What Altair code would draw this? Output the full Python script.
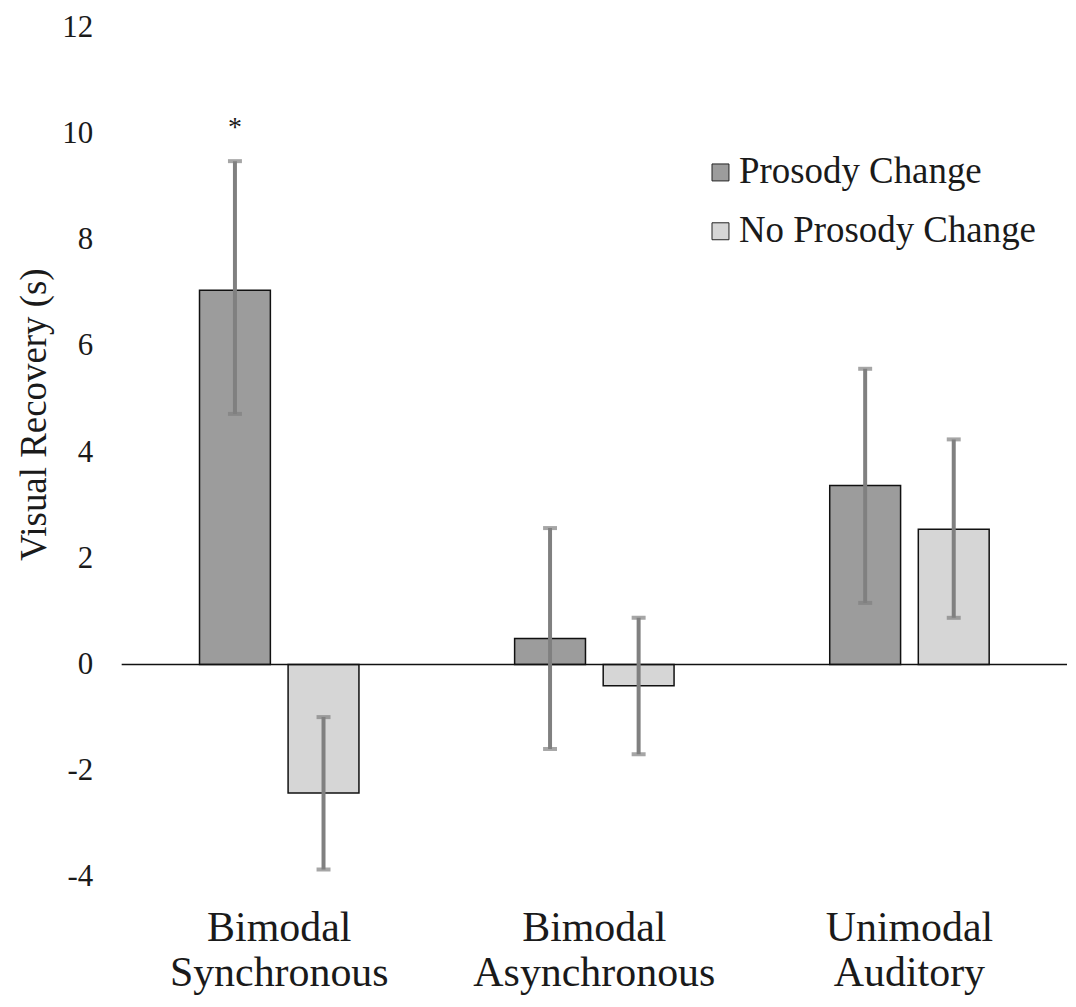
import altair as alt
import pandas as pd

categories = ["Bimodal Synchronous", "Bimodal Asynchronous", "Unimodal Auditory"]
series = ["Prosody Change", "No Prosody Change"]
pc_mean = [7.05, 0.49, 3.37]
pc_low = [4.72, -1.59, 1.16]
pc_high = [9.48, 2.57, 5.57]
npc_mean = [-2.42, -0.40, 2.55]
npc_low = [-3.86, -1.69, 0.88]
npc_high = [-0.99, 0.88, 4.24]
sig_label = ["*", "", ""]
sig_pos = [10.1, None, None]

rows = []
for i, c in enumerate(categories):
    rows.append(dict(cat=c, ser=series[0], v=pc_mean[i], lo=pc_low[i], hi=pc_high[i]))
    rows.append(dict(cat=c, ser=series[1], v=npc_mean[i], lo=npc_low[i], hi=npc_high[i]))
df = pd.DataFrame(rows)

sig = pd.DataFrame([dict(cat=categories[i], ser=series[0], t=sig_label[i], y=sig_pos[i])
                    for i in range(len(categories)) if sig_label[i]])

FONT = "Liberation Serif"
TXT = "#1a1a1a"

x = alt.X("cat:N", sort=categories, title=None,
          scale=alt.Scale(paddingInner=0.494, paddingOuter=0.247),
          axis=alt.Axis(labelExpr="split(datum.label, ' ')", labelAngle=0,
                        labelFontSize=42, labelFont=FONT, labelColor=TXT,
                        labelLineHeight=45, labelPadding=31, domain=False, ticks=False,
                        labelBaseline="top", labelLimit=0))
xoff = alt.XOffset("ser:N", sort=series, scale=alt.Scale(paddingInner=0.2, paddingOuter=0))
yscale = alt.Scale(domain=[-4, 12], nice=False, zero=False)

base = alt.Chart(df)

bars = base.mark_bar(stroke="#111111", strokeWidth=1.5).encode(
    x=x, xOffset=xoff,
    y=alt.Y("v:Q", scale=yscale, title="Visual Recovery (s)",
            axis=alt.Axis(values=list(range(-4, 13, 2)), labelExpr="datum.value + ''",
                          domain=False, ticks=False, grid=False,
                          labelFontSize=31, labelFont=FONT, labelColor=TXT, labelPadding=29,
                          titleFontSize=37, titleFont=FONT, titleFontWeight="normal",
                          titleColor=TXT, titleY=388, titleX=-68, titleAngle=270,
                          titleAlign="center", titleBaseline="bottom")),
    fill=alt.Fill("ser:N", sort=series,
                  scale=alt.Scale(domain=series, range=["#9c9c9c", "#d6d6d6"]),
                  legend=alt.Legend(title=None, orient="none", legendX=582, legendY=127,
                                    symbolType="square", symbolSize=289,
                                    symbolStrokeColor="#222222", symbolStrokeWidth=1,
                                    labelFontSize=37, labelFont=FONT, labelColor=TXT,
                                    labelLimit=0, labelOffset=0, rowPadding=21, symbolOffset=0)),
)

zero = alt.Chart(pd.DataFrame({"z": [0]})).mark_rule(color="#111111", strokeWidth=1.5).encode(
    y=alt.Y("z:Q", scale=yscale))

err = base.mark_rule(color="#808080", strokeWidth=4).encode(
    x=x, xOffset=xoff, y=alt.Y("lo:Q", scale=yscale), y2="hi:Q")

cap_lo = base.mark_tick(color="#808080", size=14, thickness=4, orient="horizontal").encode(
    x=x, xOffset=xoff, y=alt.Y("lo:Q", scale=yscale))
cap_hi = base.mark_tick(color="#808080", size=14, thickness=4, orient="horizontal").encode(
    x=x, xOffset=xoff, y=alt.Y("hi:Q", scale=yscale))

star = alt.Chart(sig).mark_text(font=FONT, fontSize=28, color=TXT, baseline="middle").encode(
    x=x, xOffset=xoff, y=alt.Y("y:Q", scale=yscale), text="t:N")

chart = alt.layer(bars, zero, err, cap_lo, cap_hi, star).properties(
    width=948, height=852,
    padding={"left": 8, "top": 2, "right": 0, "bottom": 0},
).configure(background="white").configure_view(strokeWidth=0)

chart.save("out.html", embed_options={"renderer": "svg", "actions": False})
